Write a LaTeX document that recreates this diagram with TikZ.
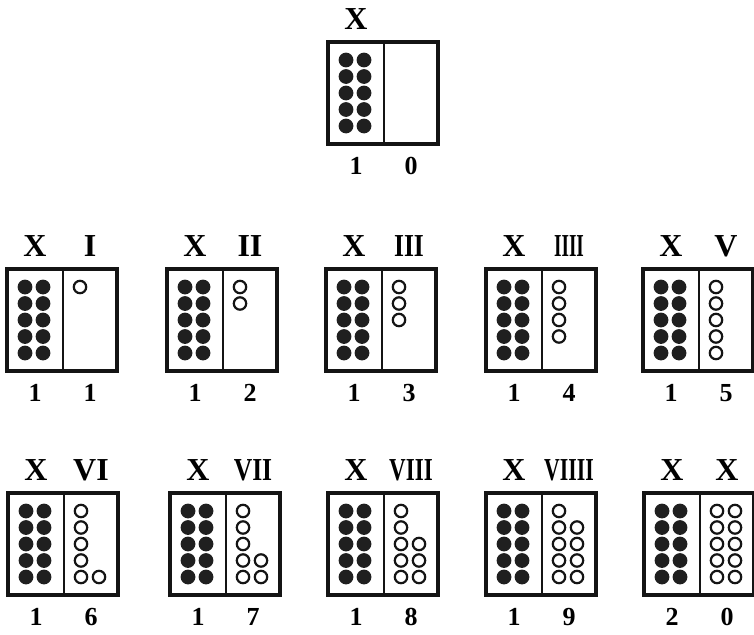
\documentclass[tikz,border=0pt]{standalone}
\usepackage{fontspec}
\setmainfont{Liberation Serif}
\newcommand\cntbox[7]{% name, L, T, lab1, lab2, num1, num2
 \begin{scope}[shift={(#2,#3)}]
  \node[frame] (#1) at (55,51) {};
  \draw[divline] ([xshift=1pt]#1.north) -- ([xshift=1pt]#1.south);
  \foreach \r in {0,...,4} \foreach \c in {18,36} \fill[bead] (\c,18+16.5*\r) circle (7.4);
  \node[roman] (#1-a) at (28,-23) {#4};
  \node[roman] (#1-b) at (83,-23) {#5};
  \node[digit] (#1-c) at (28,124) {#6};
  \node[digit] (#1-d) at (83,124) {#7};
 \end{scope}}
\newcommand\ringset[4]{% L, T, col, rows
 \begin{scope}[shift={(#1,#2)}]
  \foreach \r in {#4} \draw[ring] (73+18*#3,18+16.5*\r) circle (6.2);
 \end{scope}}
\newcommand\narrow[2]{\scalebox{#1}[1]{#2}}
\begin{document}
\begin{tikzpicture}[x=1pt,y=-1pt,
 frame/.style={draw=black!92,line width=3.3pt,minimum width=110pt,minimum height=102pt,inner sep=0pt},
 divline/.style={draw=black!92,line width=2.4pt},
 bead/.style={fill=black!88},
 ring/.style={draw=black!92,line width=2.2pt},
 roman/.style={font=\fontsize{32}{32}\selectfont\bfseries,inner sep=0pt},
 digit/.style={font=\fontsize{26}{26}\selectfont\bfseries,inner sep=0pt}]
\useasboundingbox (0,0) rectangle (754,634);
% top
\cntbox{t}{328}{42}{X}{}{1}{0}
% row 2
\cntbox{a1}{7}{269}{X}{I}{1}{1}
\ringset{7}{269}{0}{0}
\cntbox{a2}{167}{269}{X}{II}{1}{2}
\ringset{167}{269}{0}{0,1}
\cntbox{a3}{326}{269}{X}{\narrow{0.8}{III}}{1}{3}
\ringset{326}{269}{0}{0,1,2}
\cntbox{a4}{486}{269}{X}{\narrow{0.6}{IIII}}{1}{4}
\ringset{486}{269}{0}{0,1,2,3}
\cntbox{a5}{643}{269}{X}{V}{1}{5}
\ringset{643}{269}{0}{0,1,2,3,4}
% row 3
\cntbox{b1}{8}{493}{X}{VI}{1}{6}
\ringset{8}{493}{0}{0,1,2,3,4}
\ringset{8}{493}{1}{4}
\cntbox{b2}{170}{493}{X}{\narrow{0.8}{VII}}{1}{7}
\ringset{170}{493}{0}{0,1,2,3,4}
\ringset{170}{493}{1}{3,4}
\cntbox{b3}{328}{493}{X}{\narrow{0.72}{VIII}}{1}{8}
\ringset{328}{493}{0}{0,1,2,3,4}
\ringset{328}{493}{1}{2,3,4}
\cntbox{b4}{486}{493}{X}{\narrow{0.68}{VIIII}}{1}{9}
\ringset{486}{493}{0}{0,1,2,3,4}
\ringset{486}{493}{1}{1,2,3,4}
\cntbox{b5}{644}{493}{X}{X}{2}{0}
\ringset{644}{493}{0}{0,1,2,3,4}
\ringset{644}{493}{1}{0,1,2,3,4}
\end{tikzpicture}
\end{document}
